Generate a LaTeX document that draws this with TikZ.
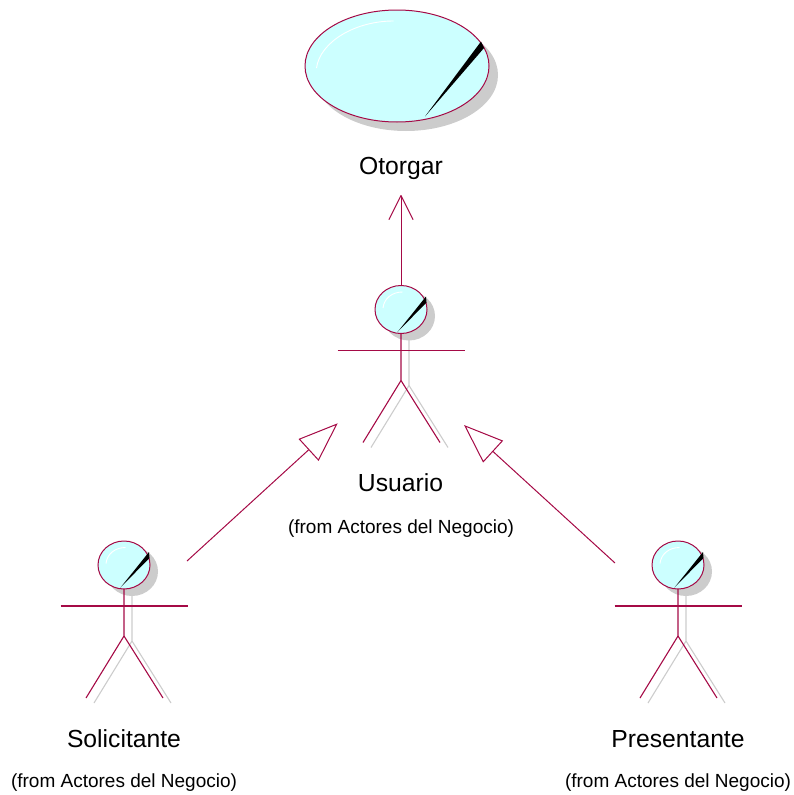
\documentclass[tikz,border=0pt]{standalone}
\usepackage{fontspec}
\setmainfont{Liberation Sans}
\usetikzlibrary{shapes.geometric,arrows.meta}
\definecolor{umlline}{RGB}{165,10,70}
\definecolor{umlfill}{RGB}{204,255,255}
\definecolor{umlshadow}{RGB}{204,204,204}
\tikzset{
  umlhead/.style={ellipse,draw=umlline,fill=umlfill,line width=1pt,inner sep=0pt,outer sep=0pt},
  umlshade/.style={ellipse,fill=umlshadow,draw=none,inner sep=0pt,outer sep=0pt},
  limb/.style={draw=umlline,line width=1.1pt},
  limbshade/.style={draw=umlshadow,line width=1.1pt},
  shine/.style={draw=white,line width=.9pt},
  namelabel/.style={font=\fontsize{24.7}{28}\selectfont,inner sep=0pt},
  fromlabel/.style={font=\fontsize{19}{22}\selectfont,inner sep=0pt},
  assoc/.style={draw=umlline,line width=1pt,-{Straight Barb[length=24pt,width=24pt,line width=1pt,round=false]}},
  gener/.style={draw=umlline,line width=1pt,-{Triangle[open,fill=white,length=39.5pt,width=29.5pt,line width=1pt]}},
  actor/.pic={
    % shadow
    \node[umlshade,minimum width=52pt,minimum height=49pt] (-shade) at (8,6.5) {};
    \draw[limbshade] (8,30) -- (8,76) -- (-30,138);
    \draw[limbshade] (8,76) -- (47,138);
    % figure
    \node[umlhead,minimum width=52pt,minimum height=48pt] (-head) at (0,0) {};
    \fill[black] (25,-13) -- (25.5,-7) -- (-3.5,22.5) -- cycle;
    \draw[shine] (-18,-1.5) .. controls (-17,-11) and (-9,-17.5) .. (1.5,-17.5);
    \coordinate (-arml) at (-63.5,41);
    \coordinate (-armr) at (63.5,41);
    \coordinate (-crotch) at (0,71);
    \coordinate (-footl) at (-38,133);
    \coordinate (-footr) at (39,133);
    \draw[limb] (-arml) -- (-armr);
    \draw[limb] (-head.south) -- (-crotch) -- (-footl);
    \draw[limb] (-crotch) -- (-footr);
  }
}
\begin{document}
\begin{tikzpicture}[x=1pt,y=-1pt]
\useasboundingbox (0,0) rectangle (794,795);
% Otorgar use case
\node[umlshade,minimum width=184pt,minimum height=112pt] (otorgarshade) at (406,75) {};
\node[umlhead,minimum width=184pt,minimum height=112pt] (otorgar) at (397,66) {};
\fill[black] (481,41.5) -- (484,48) -- (425,116.5) -- cycle;
\draw[shine] (316.5,68) .. controls (320,42) and (355,21) .. (393.5,21);
\node[namelabel] (otorgarlabel) at (401,168) {Otorgar};
% Actors
\pic (usu) at (401,309.5) {actor};
\pic (sol) at (124,565) {actor};
\pic (pre) at (678,565) {actor};
\node[namelabel] (usulabel) at (400.5,482.5) {Usuario};
\node[fromlabel] (usufrom) at (401,528.5) {(from Actores del Negocio)};
\node[namelabel] (sollabel) at (124,738.5) {Solicitante};
\node[fromlabel] (solfrom) at (124,782.5) {(from Actores del Negocio)};
\node[namelabel] (prelabel) at (678,739.5) {Presentante};
\node[fromlabel] (prefrom) at (678,782.5) {(from Actores del Negocio)};
% Connector ends
\coordinate (otorgartip) at (401,195);
\coordinate (solstart) at (187,561);
\coordinate (soltip) at (337.7,423.3);
\coordinate (prestart) at (615,563);
\coordinate (pretip) at (464,425);
\draw[assoc] (usu-head.north) -- (otorgartip);
\draw[gener] (solstart) -- (soltip);
\draw[gener] (prestart) -- (pretip);
\end{tikzpicture}
\end{document}
